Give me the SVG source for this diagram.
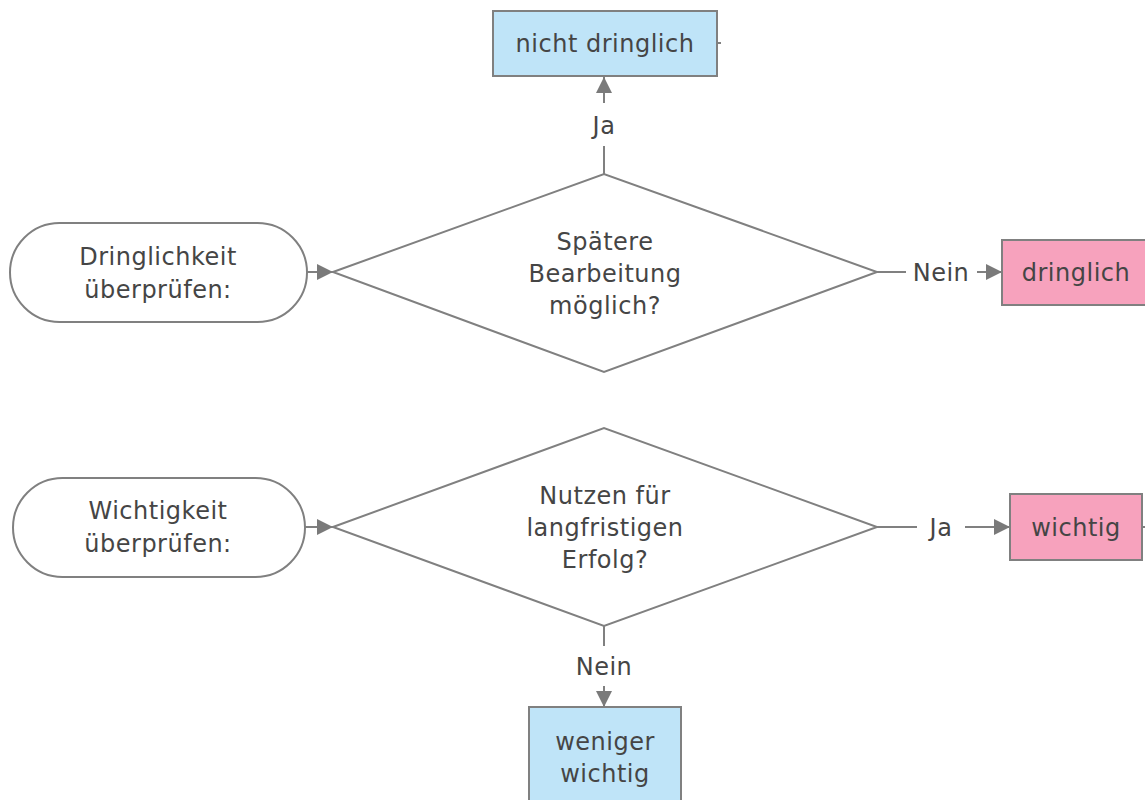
<svg xmlns="http://www.w3.org/2000/svg" width="1145" height="800" viewBox="0 0 1145 800">
<defs>
<marker id="arr" viewBox="0 0 10 10" refX="10" refY="5" markerWidth="16" markerHeight="16" markerUnits="userSpaceOnUse" orient="auto">
<path d="M0,0 L10,5 L0,10 Z" fill="#7a7a7a"/>
</marker>
<style>
.sh{stroke:#808080;stroke-width:2;}
.pill{fill:#ffffff;}
.dia{fill:#ffffff;}
.blue{fill:#bfe4f8;}
.pink{fill:#f7a2bd;}
.t{font-family:"DejaVu Sans","Liberation Sans",sans-serif;font-size:24px;letter-spacing:0.5px;fill:#454545;text-anchor:middle;}
.c{stroke:#808080;stroke-width:2;fill:none;}
</style>
</defs>
<rect width="1145" height="800" fill="#ffffff"/>
<g id="connectors">
<line class="c" x1="604" y1="174" x2="604" y2="146"/>
<line class="c" x1="604" y1="103" x2="604" y2="77" marker-end="url(#arr)"/>
<text class="t" x="604" y="134">Ja</text>
<line class="c" x1="307" y1="272" x2="333" y2="272" marker-end="url(#arr)"/>
<line class="c" x1="877" y1="272" x2="906" y2="272"/>
<text class="t" x="941" y="281">Nein</text>
<line class="c" x1="977" y1="272" x2="1002" y2="272" marker-end="url(#arr)"/>
<line class="c" x1="305" y1="527" x2="333" y2="527" marker-end="url(#arr)"/>
<line class="c" x1="877" y1="527" x2="917" y2="527"/>
<text class="t" x="941" y="536">Ja</text>
<line class="c" x1="965" y1="527" x2="1010" y2="527" marker-end="url(#arr)"/>
<line class="c" x1="604" y1="626" x2="604" y2="646"/>
<text class="t" x="604" y="675">Nein</text>
<line class="c" x1="604" y1="686" x2="604" y2="707" marker-end="url(#arr)"/>
<line class="c" x1="717" y1="43" x2="721" y2="43"/>
<line class="c" x1="1142" y1="527" x2="1146" y2="527"/>
</g>
<g id="node-nicht-dringlich">
<rect class="sh blue" x="493" y="11" width="224" height="65"/>
<text class="t" x="605" y="52">nicht dringlich</text>
</g>
<g id="node-dringlichkeit">
<rect class="sh pill" x="10" y="223" width="297" height="99" rx="49.5"/>
<text class="t" x="158" y="265">Dringlichkeit</text>
<text class="t" x="158" y="298">überprüfen:</text>
</g>
<g id="node-decision1">
<polygon class="sh dia" points="333,272 604,174 877,272 604,372"/>
<text class="t" x="605" y="250">Spätere</text>
<text class="t" x="605" y="282">Bearbeitung</text>
<text class="t" x="605" y="314">möglich?</text>
</g>
<g id="node-dringlich">
<rect class="sh pink" x="1002" y="240" width="150" height="65"/>
<text class="t" x="1076" y="281">dringlich</text>
</g>
<g id="node-wichtigkeit">
<rect class="sh pill" x="13" y="478" width="292" height="99" rx="49.5"/>
<text class="t" x="158" y="519">Wichtigkeit</text>
<text class="t" x="158" y="552">überprüfen:</text>
</g>
<g id="node-decision2">
<polygon class="sh dia" points="333,527 604,428 877,527 604,626"/>
<text class="t" x="605" y="504">Nutzen für</text>
<text class="t" x="605" y="536">langfristigen</text>
<text class="t" x="605" y="568">Erfolg?</text>
</g>
<g id="node-wichtig">
<rect class="sh pink" x="1010" y="494" width="132" height="66"/>
<text class="t" x="1076" y="536">wichtig</text>
</g>
<g id="node-weniger-wichtig">
<rect class="sh blue" x="529" y="707" width="152" height="100"/>
<text class="t" x="605" y="750">weniger</text>
<text class="t" x="605" y="782">wichtig</text>
</g>
</svg>
